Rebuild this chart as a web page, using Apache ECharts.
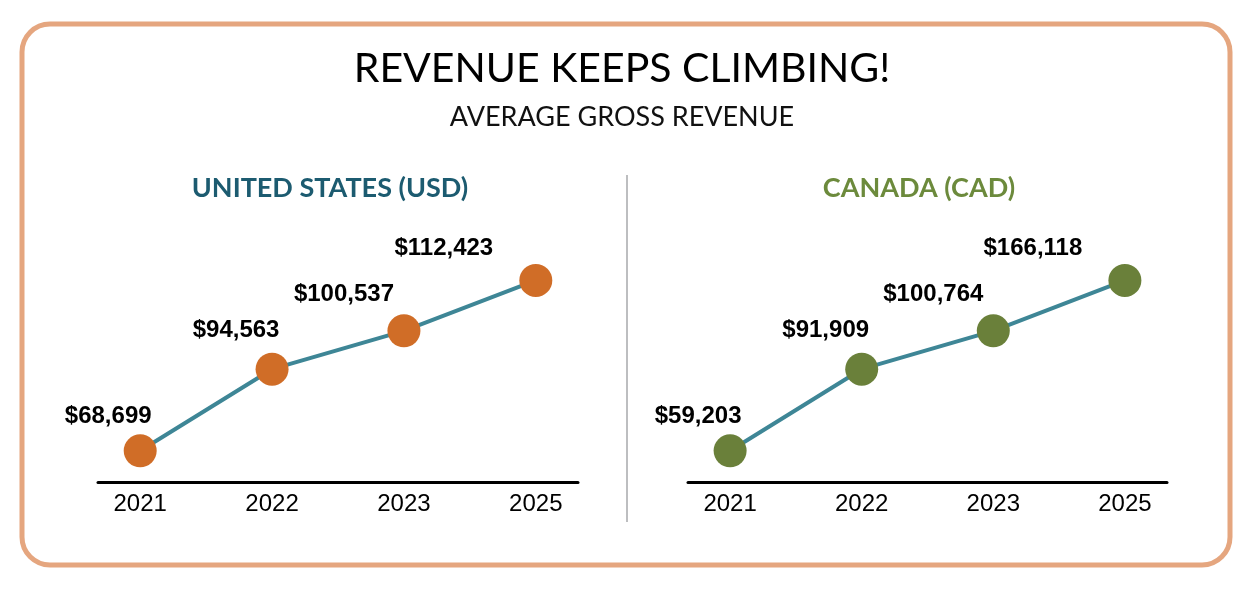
<!DOCTYPE html>
<html>
<head>
<meta charset="utf-8">
<script src="https://cdn.jsdelivr.net/npm/echarts@6/dist/echarts.min.js"></script>
<style>
  html, body { margin: 0; padding: 0; background: #fff; }
  #chart { width: 1253px; height: 604px; }
</style>
</head>
<body>
<div id="chart"></div>
<script>
// categories
var years = ["2021", "2022", "2023", "2025"];

// revenue values shown in the labels
var usRevenue = [68699, 94563, 100537, 112423];
var caRevenue = [59203, 91909, 100764, 166118];

// heights of the dots as drawn in the picture (0-100 of the plot area)
var usLevel = [13, 47, 63, 84];
var caLevel = [13, 47, 63, 84];

// label placement relative to each dot
var labelShift = [[-32, -34], [-36, -39], [-60, -36], [-92, -32]];

var chart = echarts.init(document.getElementById("chart"), null, { renderer: "canvas" });

function fmtMoney(v) {
    return "$" + v.toLocaleString("en-US");
}

function makeSeries(idx, revenue, level, dotColor) {
    var data = [];
    for (var i = 0; i < level.length; i++) {
        data.push({
            value: [i, level[i]],
            label: { offset: labelShift[i] },
            revenue: revenue[i]
        });
    }
    return {
        type: "line",
        xAxisIndex: idx,
        yAxisIndex: idx,
        data: data,
        symbol: "circle",
        symbolSize: 33,
        lineStyle: { color: "#3E8696", width: 4 },
        itemStyle: { color: dotColor },
        z: 3,
        label: {
            show: true,
            position: "inside",
            align: "center",
            verticalAlign: "middle",
            fontFamily: "Arial, 'Liberation Sans'",
            fontWeight: "bold",
            fontSize: 24,
            color: "#000",
            formatter: function (p) { return fmtMoney(p.data.revenue); }
        },
        emphasis: { disabled: true },
        animation: false
    };
}

function makeXAxis(idx) {
    return {
        type: "value",
        gridIndex: idx,
        min: -0.32,
        max: 3.32,
        axisLine: { lineStyle: { color: "#000", width: 3 } },
        axisTick: { show: false },
        splitLine: { show: false },
        axisLabel: {
            customValues: [0, 1, 2, 3],
            margin: 10,
            fontFamily: "Arial, 'Liberation Sans'",
            fontSize: 24,
            color: "#000",
            formatter: function (v) { return years[Math.round(v)]; }
        }
    };
}

function makeYAxis(idx) {
    return { type: "value", gridIndex: idx, min: 0, max: 100, show: false };
}

var option = {
    backgroundColor: "#fff",
    title: [
        {
            text: "REVENUE KEEPS CLIMBING!",
            left: 617, top: 43, textAlign: "center",
            textStyle: { fontFamily: "Lato", fontWeight: "normal", fontSize: 41, color: "#000" }
        },
        {
            text: "AVERAGE GROSS REVENUE",
            left: 617, top: 99, textAlign: "center",
            textStyle: { fontFamily: "Lato", fontWeight: "normal", fontSize: 27, color: "#111" }
        },
        {
            text: "UNITED STATES (USD)",
            left: 325, top: 170, textAlign: "center",
            textStyle: { fontFamily: "Lato", fontWeight: "bold", fontSize: 27, color: "#1C5B70" }
        },
        {
            text: "CANADA (CAD)",
            left: 914, top: 170, textAlign: "center",
            textStyle: { fontFamily: "Lato", fontWeight: "bold", fontSize: 27, color: "#6C8A3C" }
        }
    ],
    graphic: [
        {
            type: "rect",
            shape: { x: 22, y: 24, width: 1208, height: 541, r: 28 },
            style: { fill: "none", stroke: "#E5A67F", lineWidth: 5 },
            z: 0
        },
        {
            type: "line",
            shape: { x1: 627, y1: 175, x2: 627, y2: 522 },
            style: { stroke: "#BDBEC0", lineWidth: 2 },
            z: 0
        }
    ],
    grid: [
        { left: 98, width: 480, top: 242, height: 240 },
        { left: 688, width: 479, top: 242, height: 240 }
    ],
    xAxis: [makeXAxis(0), makeXAxis(1)],
    yAxis: [makeYAxis(0), makeYAxis(1)],
    series: [
        makeSeries(0, usRevenue, usLevel, "#D06D27"),
        makeSeries(1, caRevenue, caLevel, "#6A803A")
    ]
};

chart.setOption(option);
</script>
</body>
</html>
